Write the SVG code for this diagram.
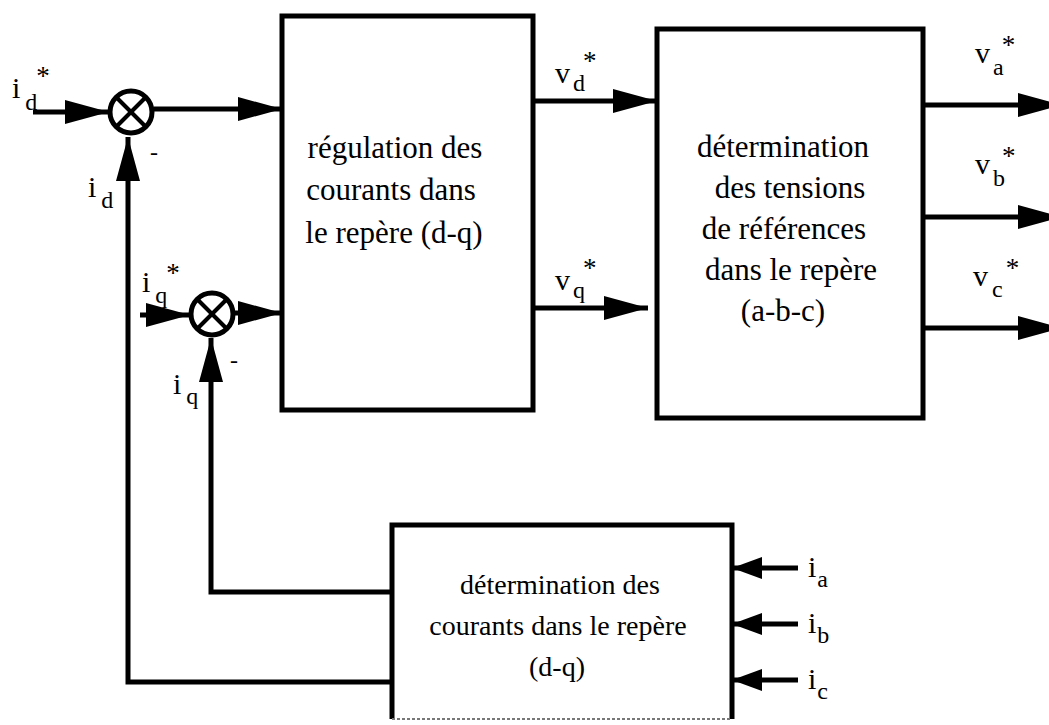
<svg xmlns="http://www.w3.org/2000/svg" width="1049" height="725" viewBox="0 0 1049 725">
<style>
.box{fill:none;stroke:#000;stroke-width:5}
.ln{fill:none;stroke:#000;stroke-width:4}
.ar{fill:none;stroke:#000;stroke-width:5;marker-end:url(#ah)}
.ar2{fill:none;stroke:#000;stroke-width:5;marker-end:url(#ah2)}
text{font-family:'Liberation Serif','Times New Roman',serif;fill:#000}
.t{font-size:31px}
.t3{font-size:28px}
.l{font-size:30px}
.c{text-anchor:middle}
.s{font-size:24px}
.st{font-size:27px}
.sum{fill:none;stroke:#000;stroke-width:5}
</style>
<defs>
<marker id="ah" markerUnits="userSpaceOnUse" markerWidth="46" markerHeight="26" refX="44" refY="12" orient="auto">
<path d="M0,0 L44,12 L0,24 z" fill="#000"/>
</marker>
<marker id="ah2" markerUnits="userSpaceOnUse" markerWidth="32" markerHeight="24" refX="30" refY="11" orient="auto">
<path d="M0,0 L30,11 L0,22 z" fill="#000"/>
</marker>
</defs>
<g id="connectors">
<line class="ar" x1="33" y1="112" x2="109" y2="112"/>
<line class="ar" x1="154" y1="109" x2="282" y2="109"/>
<path class="ar" d="M392,682 H128 V137"/>
<line class="ar" x1="140" y1="315" x2="190" y2="315"/>
<line class="ar" x1="235" y1="313" x2="282" y2="313"/>
<path class="ar" d="M392,592 H211 V338"/>
<line class="ar" x1="533" y1="101" x2="657" y2="101"/>
<line class="ar" x1="533" y1="308" x2="648" y2="308"/>
<line class="ar" x1="923" y1="105" x2="1062" y2="105"/>
<line class="ar" x1="923" y1="217" x2="1062" y2="217"/>
<line class="ar" x1="923" y1="328" x2="1062" y2="328"/>
<line class="ar2" x1="798" y1="568" x2="732" y2="568"/>
<line class="ar2" x1="798" y1="624" x2="732" y2="624"/>
<line class="ar2" x1="798" y1="680" x2="732" y2="680"/>
</g>
<g id="sum1">
<circle class="sum" cx="131" cy="112" r="21"/>
<line class="ln" x1="116" y1="97" x2="146" y2="127"/>
<line class="ln" x1="146" y1="97" x2="116" y2="127"/>
<text class="s" x="150" y="160">-</text>
</g>
<g id="sum2">
<circle class="sum" cx="212" cy="314" r="21"/>
<line class="ln" x1="197" y1="299" x2="227" y2="329"/>
<line class="ln" x1="227" y1="299" x2="197" y2="329"/>
<text class="s" x="230" y="368">-</text>
</g>
<g id="box-regulation">
<rect class="box" x="282" y="16" width="251" height="394"/>
<text class="t c" x="395" y="158">régulation des</text>
<text class="t c" x="391" y="200">courants dans</text>
<text class="t c" x="394" y="243">le repère (d-q)</text>
</g>
<g id="box-tensions">
<rect class="box" x="657" y="29" width="266" height="389"/>
<text class="t c" x="783" y="157">détermination</text>
<text class="t c" x="790" y="198">des tensions</text>
<text class="t c" x="784" y="239">de références</text>
<text class="t c" x="791" y="280">dans le repère</text>
<text class="t c" x="783" y="321">(a-b-c)</text>
</g>
<g id="box-courants">
<path class="box" d="M392,719 V525 H732 V719"/>
<line x1="392" y1="719" x2="732" y2="719" stroke="#777" stroke-width="2" stroke-dasharray="3,2"/>
<text class="t3 c" x="560" y="594">détermination des</text>
<text class="t3 c" x="558" y="635">courants dans le repère</text>
<text class="t3 c" x="557" y="676">(d-q)</text>
</g>
<g id="labels">
<text class="l" x="12" y="98">i<tspan class="s" dx="5" dy="12">d</tspan><tspan class="st" dx="-1" dy="-25">*</tspan></text>
<text class="l" x="88" y="197">i<tspan class="s" dx="5" dy="11">d</tspan></text>
<text class="l" x="142" y="292">i<tspan class="s" dx="5" dy="11">q</tspan><tspan class="st" dx="-1" dy="-21">*</tspan></text>
<text class="l" x="173" y="394">i<tspan class="s" dx="5" dy="10">q</tspan></text>
<text class="l" x="555" y="83">v<tspan class="s" dx="3" dy="8">d</tspan><tspan class="st" dx="-2" dy="-21">*</tspan></text>
<text class="l" x="555" y="290">v<tspan class="s" dx="3" dy="8">q</tspan><tspan class="st" dx="-2" dy="-21">*</tspan></text>
<text class="l" x="975" y="63">v<tspan class="s" dx="3" dy="12">a</tspan><tspan class="st" dx="-2" dy="-21">*</tspan></text>
<text class="l" x="975" y="174">v<tspan class="s" dx="3" dy="12">b</tspan><tspan class="st" dx="-3" dy="-21">*</tspan></text>
<text class="l" x="973" y="286">v<tspan class="s" dx="4" dy="11">c</tspan><tspan class="st" dx="3" dy="-20">*</tspan></text>
<text class="l" x="808" y="577">i<tspan class="s" dx="1" dy="10">a</tspan></text>
<text class="l" x="808" y="633">i<tspan class="s" dx="1" dy="10">b</tspan></text>
<text class="l" x="808" y="689">i<tspan class="s" dx="1" dy="10">c</tspan></text>
</g>
</svg>
